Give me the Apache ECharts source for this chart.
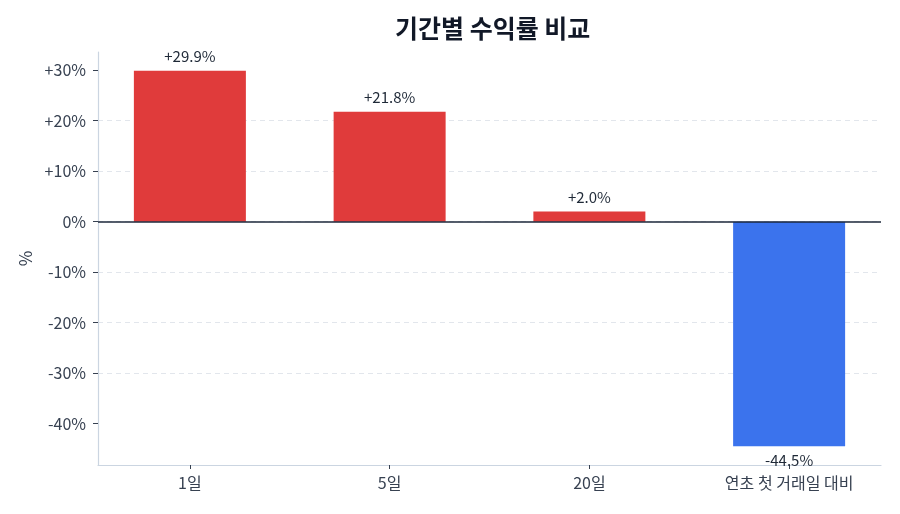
<!DOCTYPE html>
<html>
<head>
<meta charset="utf-8">
<script src="https://cdn.jsdelivr.net/npm/echarts@6/dist/echarts.min.js"></script>
<style>
  html, body { margin: 0; padding: 0; background: #fff; }
  #chart { width: 900px; height: 514px; }
</style>
</head>
<body>
<div id="chart"></div>
<script>
// 기간별 수익률
var categories = ['1일', '5일', '20일', '연초 첫 거래일 대비'];
var returns = [29.9, 21.8, 2.0, -44.5];
var yTicks = [-40, -30, -20, -10, 0, 10, 20, 30];
var xTicks = [0, 1, 2, 3];

var FONT = '"Noto Sans CJK KR", "Noto Sans", sans-serif';
var RED = '#e03b3b';
var BLUE = '#3b73ed';

function pct(v) {
  return (v > 0 ? '+' : '') + v.toFixed(1) + '%';
}

var chart = echarts.init(document.getElementById('chart'));
var option = {
  backgroundColor: '#fff',
  animation: false,
  title: {
    text: '기간별 수익률 비교',
    left: 390,
    top: 11,
    textStyle: { fontFamily: FONT, fontSize: 25, fontWeight: 'bold', color: '#111827' }
  },
  grid: { left: 98, right: 19, top: 52, bottom: 49 },
  xAxis: {
    type: 'value',
    min: -0.46,
    max: 3.46,
    splitLine: { show: false },
    axisLine: { show: true, onZero: false, lineStyle: { color: '#cbd5e1', width: 1.2 } },
    axisTick: { show: true, customValues: xTicks, length: 4, lineStyle: { color: '#374151' } },
    axisLabel: {
      customValues: xTicks,
      margin: 10,
      fontFamily: FONT,
      fontSize: 16,
      color: '#374151',
      formatter: function (v) { return categories[v]; }
    }
  },
  yAxis: {
    type: 'value',
    min: -48.22,
    max: 33.62,
    splitNumber: 8,
    name: '%',
    nameLocation: 'middle',
    nameGap: 63,
    nameTextStyle: { fontFamily: FONT, fontSize: 17, color: '#374151' },
    axisLine: { show: true, onZero: false, lineStyle: { color: '#cbd5e1', width: 1.2 } },
    axisTick: { show: true, customValues: yTicks, length: 5, lineStyle: { color: '#374151' } },
    axisLabel: {
      customValues: yTicks,
      margin: 12,
      fontFamily: FONT,
      fontSize: 16,
      color: '#374151',
      formatter: function (v) { return (v > 0 ? '+' : '') + v + '%'; }
    },
    splitLine: {
      show: true,
      showMinLine: false,
      showMaxLine: false,
      lineStyle: { color: '#e2e6ec', type: [5, 4], width: 1 }
    }
  },
  series: [{
    type: 'bar',
    barWidth: 112,
    data: returns.map(function (v, i) {
      return {
        value: [i, v],
        itemStyle: { color: v >= 0 ? RED : BLUE },
        label: { position: v >= 0 ? 'top' : 'bottom' }
      };
    }),
    label: {
      show: true,
      distance: 7,
      fontFamily: FONT,
      fontSize: 15,
      color: '#1f2937',
      formatter: function (p) { return pct(p.value[1]); }
    },
    markLine: {
      silent: true,
      symbol: ['none', 'none'],
      label: { show: false },
      lineStyle: { color: '#1e293b', width: 1.5, type: 'solid' },
      data: [{ yAxis: 0 }]
    }
  }]
};
chart.setOption(option);
</script>
</body>
</html>
